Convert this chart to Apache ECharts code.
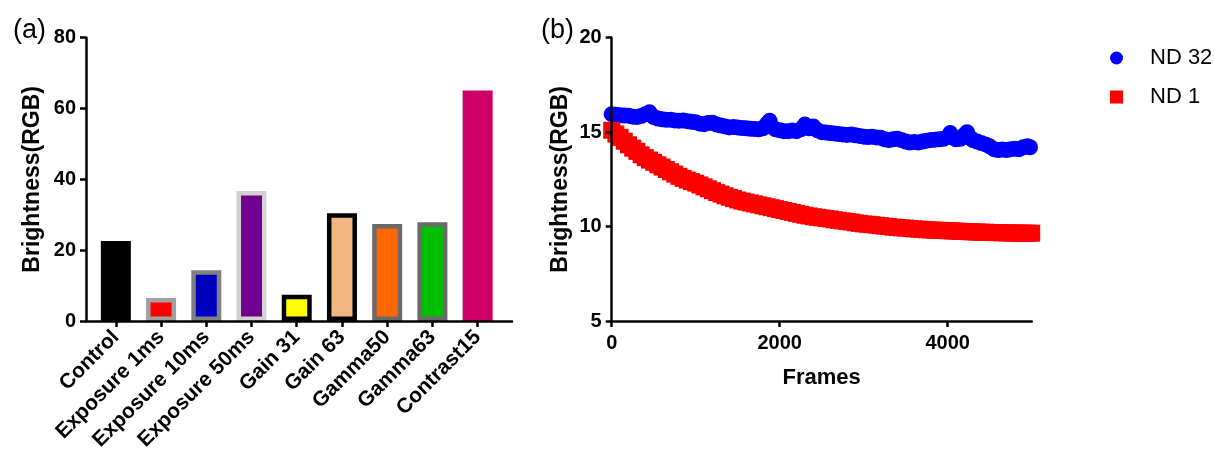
<!DOCTYPE html>
<html>
<head>
<meta charset="utf-8">
<title>Brightness</title>
<script src="https://cdn.jsdelivr.net/npm/echarts@6/dist/echarts.min.js"></script>
<style>
    html, body { margin: 0; padding: 0; background: #fff; }
    #chart { width: 1214px; height: 459px; }
</style>
</head>
<body>
<div id="chart"></div>
<script>
// Panel (a): bar values per setting
const categories = ['Control', 'Exposure 1ms', 'Exposure 10ms', 'Exposure 50ms', 'Gain 31', 'Gain 63', 'Gamma50', 'Gamma63', 'Contrast15'];
const barValues = [22.6, 6.5, 14.3, 36.7, 7.4, 30.4, 27.4, 27.9, 65.1];
const barColors = ['#000000', '#ff0000', '#0000c0', '#70008f', '#ffff00', '#f0b880', '#ff6600', '#00bf00', '#cc0066'];
const barBorders = ['#000000', '#a0a0a0', '#808080', '#d2d2d2', '#000000', '#000000', '#6a6a6a', '#6a6a6a', null];

// Panel (b): brightness over frames
const nd32Frames = [0, 50, 100, 150, 200, 250, 300, 350, 400, 450, 500, 550, 600, 650, 700, 750, 800, 850, 900, 950,
    1000, 1050, 1100, 1150, 1200, 1250, 1300, 1350, 1400, 1450, 1500, 1550, 1600, 1650, 1700, 1750, 1800, 1850, 1880, 1900, 1950,
    2000, 2050, 2100, 2150, 2200, 2250, 2300, 2350, 2400, 2450, 2500, 2550, 2600, 2650, 2700, 2750, 2800, 2850, 2900, 2950,
    3000, 3050, 3100, 3150, 3200, 3250, 3300, 3350, 3400, 3450, 3500, 3550, 3600, 3650, 3700, 3750, 3800, 3850, 3900, 3950,
    4000, 4030, 4070, 4100, 4150, 4200, 4230, 4270, 4300, 4350, 4400, 4450, 4500, 4550, 4600, 4650, 4700, 4750, 4800, 4850, 4900, 4950, 4980];
const nd32Values = [15.95, 15.92, 15.9, 15.88, 15.87, 15.82, 15.8, 15.85, 15.95, 16.05, 15.8, 15.72, 15.68, 15.65, 15.66, 15.62, 15.6, 15.62, 15.58, 15.55,
    15.52, 15.45, 15.42, 15.48, 15.5, 15.4, 15.35, 15.3, 15.25, 15.27, 15.25, 15.22, 15.2, 15.18, 15.17, 15.15, 15.2, 15.45, 15.6, 15.3, 15.15,
    15.1, 15.05, 15.05, 15.08, 15.05, 15.15, 15.4, 15.2, 15.3, 15.1, 15.0, 14.98, 14.95, 14.93, 14.9, 14.88, 14.85, 14.87, 14.83, 14.8,
    14.76, 14.74, 14.75, 14.72, 14.7, 14.62, 14.58, 14.62, 14.65, 14.58, 14.5, 14.45, 14.48, 14.45, 14.5, 14.55, 14.58, 14.6, 14.62, 14.65,
    14.75, 14.95, 14.7, 14.62, 14.65, 14.85, 15.0, 14.7, 14.58, 14.5, 14.42, 14.35, 14.25, 14.1, 14.05, 14.08, 14.05, 14.1, 14.12, 14.1, 14.2, 14.25, 14.2];
const nd1Frames = [0, 50, 100, 150, 200, 250, 300, 350, 400, 450, 500, 550, 600, 650, 700, 750, 800, 850, 900, 950,
    1000, 1050, 1100, 1150, 1200, 1250, 1300, 1350, 1400, 1450, 1500, 1550, 1600, 1650, 1700, 1750, 1800, 1850, 1900, 1950,
    2000, 2050, 2100, 2150, 2200, 2250, 2300, 2350, 2400, 2450, 2500, 2550, 2600, 2650, 2700, 2750, 2800, 2850, 2900, 2950,
    3000, 3050, 3100, 3150, 3200, 3250, 3300, 3350, 3400, 3450, 3500, 3550, 3600, 3650, 3700, 3750, 3800, 3850, 3900, 3950,
    4000, 4050, 4100, 4150, 4200, 4250, 4300, 4350, 4400, 4450, 4500, 4550, 4600, 4650, 4700, 4750, 4800, 4850, 4900, 4950, 5000];
const nd1Values = [15.1, 14.9, 14.72, 14.52, 14.33, 14.15, 13.98, 13.8, 13.65, 13.52, 13.4, 13.27, 13.15, 13.02, 12.9, 12.78, 12.66, 12.55, 12.46, 12.38,
    12.3, 12.2, 12.1, 12.0, 11.9, 11.8, 11.72, 11.63, 11.55, 11.48, 11.41, 11.35, 11.3, 11.25, 11.2, 11.15, 11.1, 11.05, 11.0, 10.95,
    10.9, 10.85, 10.8, 10.75, 10.7, 10.65, 10.6, 10.56, 10.52, 10.49, 10.46, 10.43, 10.4, 10.36, 10.33, 10.3, 10.27, 10.24, 10.2, 10.17,
    10.14, 10.12, 10.1, 10.07, 10.05, 10.02, 10.0, 9.97, 9.95, 9.93, 9.92, 9.9, 9.88, 9.86, 9.85, 9.83, 9.82, 9.81, 9.8, 9.79,
    9.78, 9.77, 9.76, 9.75, 9.74, 9.73, 9.72, 9.71, 9.7, 9.7, 9.69, 9.68, 9.68, 9.67, 9.67, 9.66, 9.66, 9.65, 9.65, 9.65, 9.65];
const frameTicks = [0, 2000, 4000];

const FONT = '"Liberation Sans", Arial, sans-serif';

function axisLine() {
    return { show: true, onZero: false, lineStyle: { color: '#000', width: 2.5 } };
}

function axisTick(values) {
    const t = { show: true, length: 6, lineStyle: { color: '#000', width: 2.5 } };
    if (values) t.customValues = values;
    return t;
}

const chart = echarts.init(document.getElementById('chart'));

const barData = barValues.map((v, i) => ({
    value: [i, v],
    itemStyle: {
        color: barColors[i],
        borderColor: barBorders[i] || barColors[i],
        borderWidth: barBorders[i] ? 4.5 : 0
    }
}));

const categoryIdx = categories.map((c, i) => i);

const option = {
    animation: false,
    backgroundColor: '#fff',
    title: [
        { text: '(a)', left: 8, top: 12, textStyle: { fontFamily: FONT, fontWeight: 'normal', fontSize: 27, color: '#000' } },
        { text: '(b)', left: 536, top: 12, textStyle: { fontFamily: FONT, fontWeight: 'normal', fontSize: 27, color: '#000' } }
    ],
    legend: {
        orient: 'vertical',
        left: 1105,
        top: 42,
        itemWidth: 13,
        itemHeight: 13,
        itemGap: 17,
        textStyle: { fontFamily: FONT, fontSize: 22, color: '#000', lineHeight: 22, padding: [0, 0, 0, 22] },
        data: [
            { name: 'ND 32', icon: 'circle' },
            { name: 'ND 1', icon: 'rect' }
        ]
    },
    grid: [
        { left: 86, top: 37.7, width: 426, height: 283.3 },
        { left: 611.7, top: 37.7, width: 420, height: 283.3 }
    ],
    xAxis: [
        {
            gridIndex: 0,
            type: 'value',
            min: -0.66,
            max: 8.76,
            z: 3,
            axisLine: axisLine(),
            axisTick: axisTick(categoryIdx),
            splitLine: { show: false },
            axisLabel: {
                customValues: categoryIdx,
                formatter: v => categories[Math.round(v)] || '',
                rotate: 45,
                margin: 13,
                fontFamily: FONT, fontWeight: 'bold', fontSize: 21, color: '#000'
            }
        },
        {
            gridIndex: 1,
            type: 'value',
            min: 0,
            max: 5000,
            z: 3,
            axisLine: axisLine(),
            axisTick: axisTick(frameTicks),
            splitLine: { show: false },
            axisLabel: {
                customValues: frameTicks,
                formatter: v => String(v),
                margin: 12,
                fontFamily: FONT, fontWeight: 'bold', fontSize: 20, color: '#000'
            },
            name: 'Frames',
            nameLocation: 'middle',
            nameGap: 46,
            nameTextStyle: { fontFamily: FONT, fontWeight: 'bold', fontSize: 22, color: '#000' }
        }
    ],
    yAxis: [
        {
            gridIndex: 0,
            type: 'value',
            min: 0,
            max: 80,
            interval: 20,
            z: 3,
            axisLine: axisLine(),
            axisTick: axisTick(),
            splitLine: { show: false },
            axisLabel: { margin: 10, fontFamily: FONT, fontWeight: 'bold', fontSize: 20, color: '#000' },
            name: 'Brightness(RGB)',
            nameLocation: 'middle',
            nameGap: 42,
            nameTextStyle: { fontFamily: FONT, fontWeight: 'bold', fontSize: 23, color: '#000' }
        },
        {
            gridIndex: 1,
            type: 'value',
            min: 5,
            max: 20,
            interval: 5,
            z: 3,
            axisLine: axisLine(),
            axisTick: axisTick(),
            splitLine: { show: false },
            axisLabel: { margin: 10, fontFamily: FONT, fontWeight: 'bold', fontSize: 20, color: '#000' },
            name: 'Brightness(RGB)',
            nameLocation: 'middle',
            nameGap: 40,
            nameTextStyle: { fontFamily: FONT, fontWeight: 'bold', fontSize: 23, color: '#000' }
        }
    ],
    series: [
        {
            type: 'bar',
            xAxisIndex: 0,
            yAxisIndex: 0,
            barWidth: 30,
            data: barData
        },
        {
            name: 'ND 32',
            type: 'scatter',
            xAxisIndex: 1,
            yAxisIndex: 1,
            symbol: 'circle',
            symbolSize: 16,
            itemStyle: { color: '#0000ff', opacity: 1 },
            data: nd32Frames.map((f, i) => [f, nd32Values[i]])
        },
        {
            name: 'ND 1',
            type: 'scatter',
            xAxisIndex: 1,
            yAxisIndex: 1,
            symbol: 'rect',
            symbolSize: 17,
            itemStyle: { color: '#ff0000', opacity: 1 },
            data: nd1Frames.map((f, i) => [f, nd1Values[i]])
        }
    ]
};

chart.setOption(option);
</script>
</body>
</html>
